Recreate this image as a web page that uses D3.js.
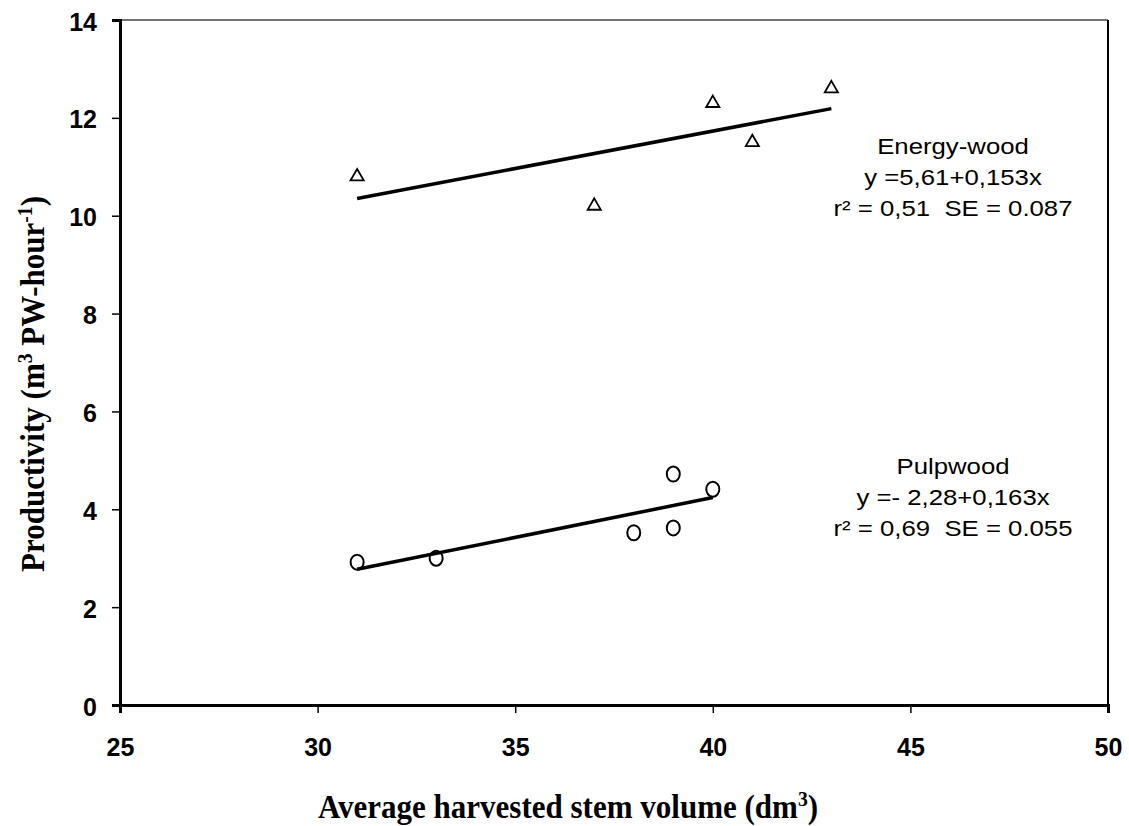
<!DOCTYPE html>
<html><head><meta charset="utf-8">
<script src="https://cdn.jsdelivr.net/npm/d3@7"></script>
<style>body{margin:0;background:#fff}</style>
</head><body>
<svg id="c" width="1129" height="826"></svg>
<script>
const xTicks = [25, 30, 35, 40, 45, 50];
const yTicks = [0, 2, 4, 6, 8, 10, 12, 14];
const energyX = [31, 37, 40, 41, 43];
const energyY = [10.8, 10.2, 12.3, 11.5, 12.6];
const pulpX = [31, 33, 38, 39, 39, 40];
const pulpY = [2.92, 3.0, 3.52, 3.62, 4.72, 4.41];
const energyFit = {a: 5.61, b: 0.153, x0: 31, x1: 43};
const pulpFit = {a: -2.28, b: 0.163, x0: 31, x1: 40};
const energyText = ["Energy-wood", "y =5,61+0,153x", "r\u00b2 = 0,51  SE = 0.087"];
const pulpText = ["Pulpwood", "y =- 2,28+0,163x", "r\u00b2 = 0,69  SE = 0.055"];

const svg = d3.select("#c");
const L = 120, R = 1108, T = 20, B = 705;
const x = d3.scaleLinear().domain([25, 50]).range([L, R]);
const y = d3.scaleLinear().domain([0, 14]).range([B, T]);

// frame
svg.append("line").attr("x1", L).attr("x2", R).attr("y1", T).attr("y2", T).attr("stroke", "#444").attr("stroke-width", 1.5);
svg.append("line").attr("x1", R).attr("x2", R).attr("y1", T).attr("y2", B).attr("stroke", "#000").attr("stroke-width", 2);

const xAxis = svg.append("g").attr("transform", `translate(0,${B})`)
  .call(d3.axisBottom(x).tickValues(xTicks).tickSize(8).tickPadding(25).tickFormat(d3.format("d")));
const yAxis = svg.append("g").attr("transform", `translate(${L},0)`)
  .call(d3.axisLeft(y).tickValues(yTicks).tickSize(8).tickPadding(15).tickFormat(d3.format("d")));
[xAxis, yAxis].forEach(g => {
  g.select(".domain").attr("stroke", "#000").attr("stroke-width", 3);
  g.selectAll(".tick line").attr("stroke", "#000").attr("stroke-width", 1.5);
  g.selectAll("text").attr("fill", "#000").style("font-family", "'Liberation Sans', Arial, sans-serif")
    .style("font-size", "25px").style("font-weight", "bold");
});
yAxis.selectAll("text").attr("dy", "0.4em");
xAxis.selectAll("text").attr("dy", "0.71em");

// fit lines
[energyFit, pulpFit].forEach(f => {
  svg.append("line")
    .attr("x1", x(f.x0)).attr("y1", y(f.a + f.b * f.x0))
    .attr("x2", x(f.x1)).attr("y2", y(f.a + f.b * f.x1))
    .attr("stroke", "#000").attr("stroke-width", 3.5);
});

// triangles
const tri = d3.symbol().type(d3.symbolTriangle).size(75);
svg.append("g").selectAll("path").data(energyX.map((v, i) => [v, energyY[i]])).join("path")
  .attr("d", tri).attr("transform", d => `translate(${x(d[0])},${y(d[1])})`)
  .attr("fill", "none").attr("stroke", "#000").attr("stroke-width", 1.8);

// circles
svg.append("g").selectAll("ellipse").data(pulpX.map((v, i) => [v, pulpY[i]])).join("ellipse")
  .attr("cx", d => x(d[0])).attr("cy", d => y(d[1])).attr("rx", 6.5).attr("ry", 7.5)
  .attr("fill", "none").attr("stroke", "#000").attr("stroke-width", 2);

// annotations
function annot(lines, cx, y0, gap) {
  const t = svg.append("text").attr("text-anchor", "middle")
    .attr("transform", `translate(${cx},0) scale(1.12,1)`)
    .style("white-space", "pre")
    .style("font-family", "'Liberation Sans', Arial, sans-serif").style("font-size", "23px").attr("fill", "#000");
  lines.forEach((s, i) => t.append("tspan").attr("x", 0).attr("y", y0 + i * gap).text(s));
}
annot(energyText, 953, 154, 31);
annot(pulpText, 953, 474, 31);

// axis titles
const xt = svg.append("text").attr("transform", "translate(568,818) scale(0.94,1)").attr("text-anchor", "middle")
  .style("font-family", "'Liberation Serif', 'Times New Roman', serif").style("font-size", "33px").style("font-weight", "bold");
xt.append("tspan").text("Average harvested stem volume (dm");
xt.append("tspan").attr("dy", -12).style("font-size", "21px").text("3");
xt.append("tspan").attr("dy", 12).text(")");

const yt = svg.append("text").attr("transform", "translate(44,384) rotate(-90) scale(0.94,1)").attr("text-anchor", "middle")
  .style("font-family", "'Liberation Serif', 'Times New Roman', serif").style("font-size", "33px").style("font-weight", "bold");
yt.append("tspan").text("Productivity (m");
yt.append("tspan").attr("dy", -12).style("font-size", "21px").text("3");
yt.append("tspan").attr("dy", 12).text(" PW-hour");
yt.append("tspan").attr("dy", -12).style("font-size", "21px").text("-1");
yt.append("tspan").attr("dy", 12).text(")");
</script>
</body></html>
